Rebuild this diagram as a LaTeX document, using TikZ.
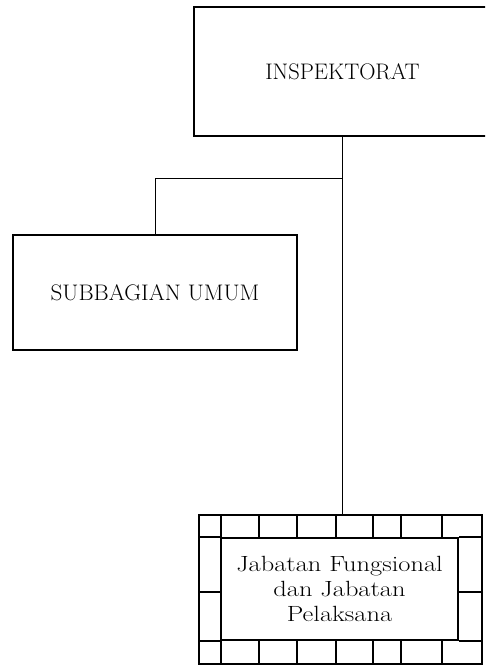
\documentclass[tikz,border=0pt]{standalone}
\begin{document}
\begin{tikzpicture}[x=1pt,y=-1pt,
  box/.style={draw,line width=2.5pt,inner sep=0pt,font=\fontsize{22.5}{26}\selectfont},
  grid/.style={line width=2pt},
  conn/.style={line width=1pt}]
\useasboundingbox (0,0) rectangle (485,666);
\begin{scope}
\clip (0,0) rectangle (485,666);
\node[box,minimum width=297pt,minimum height=129pt] (insp) at (342.5,71.5) {INSPEKTORAT};
\end{scope}
\node[box,minimum width=284pt,minimum height=115pt] (sub) at (155,292.5) {\scalebox{1.03}[1]{SUBBAGIAN UMUM}};
% outer functional box
\node[draw,grid,minimum width=283pt,minimum height=149pt,inner sep=0pt] (jab) at (340.5,589.5) {};
\node[draw,grid,minimum width=237pt,minimum height=102pt,inner sep=0pt,align=center,
  font=\fontsize{22}{25}\selectfont] (jabin) at (339.5,589)
  {\scalebox{1.2}[1]{Jabatan Fungsional}\\\scalebox{1.2}[1]{dan Jabatan}\\\scalebox{1.2}[1]{Pelaksana}};
% grid lines top and bottom rows
\draw[grid] (jabin.north west) -- (jabin.north west -| jab.west);
\draw[grid] (jabin.north east) -- (jabin.north east -| jab.east);
\draw[grid] (jabin.south west) -- (jabin.south west -| jab.west);
\draw[grid] (jabin.south east) -- (jabin.south east -| jab.east);
\foreach \x in {221,259,297,336,373,401,442}{
  \draw[grid] (\x,515) -- (\x,538);
  \draw[grid] (\x,640) -- (\x,664);
}
\draw[grid] (jab.west |- 0,591.5) -- (jabin.west |- 0,591.5);
\draw[grid] (jab.east |- 0,591.5) -- (jabin.east |- 0,591.5);
% connectors
\draw[conn] (insp.south) -- (insp.south |- jab.north);
\coordinate (br) at (342,178);
\draw[conn] (br) -| (sub.north);
\end{tikzpicture}
\end{document}
